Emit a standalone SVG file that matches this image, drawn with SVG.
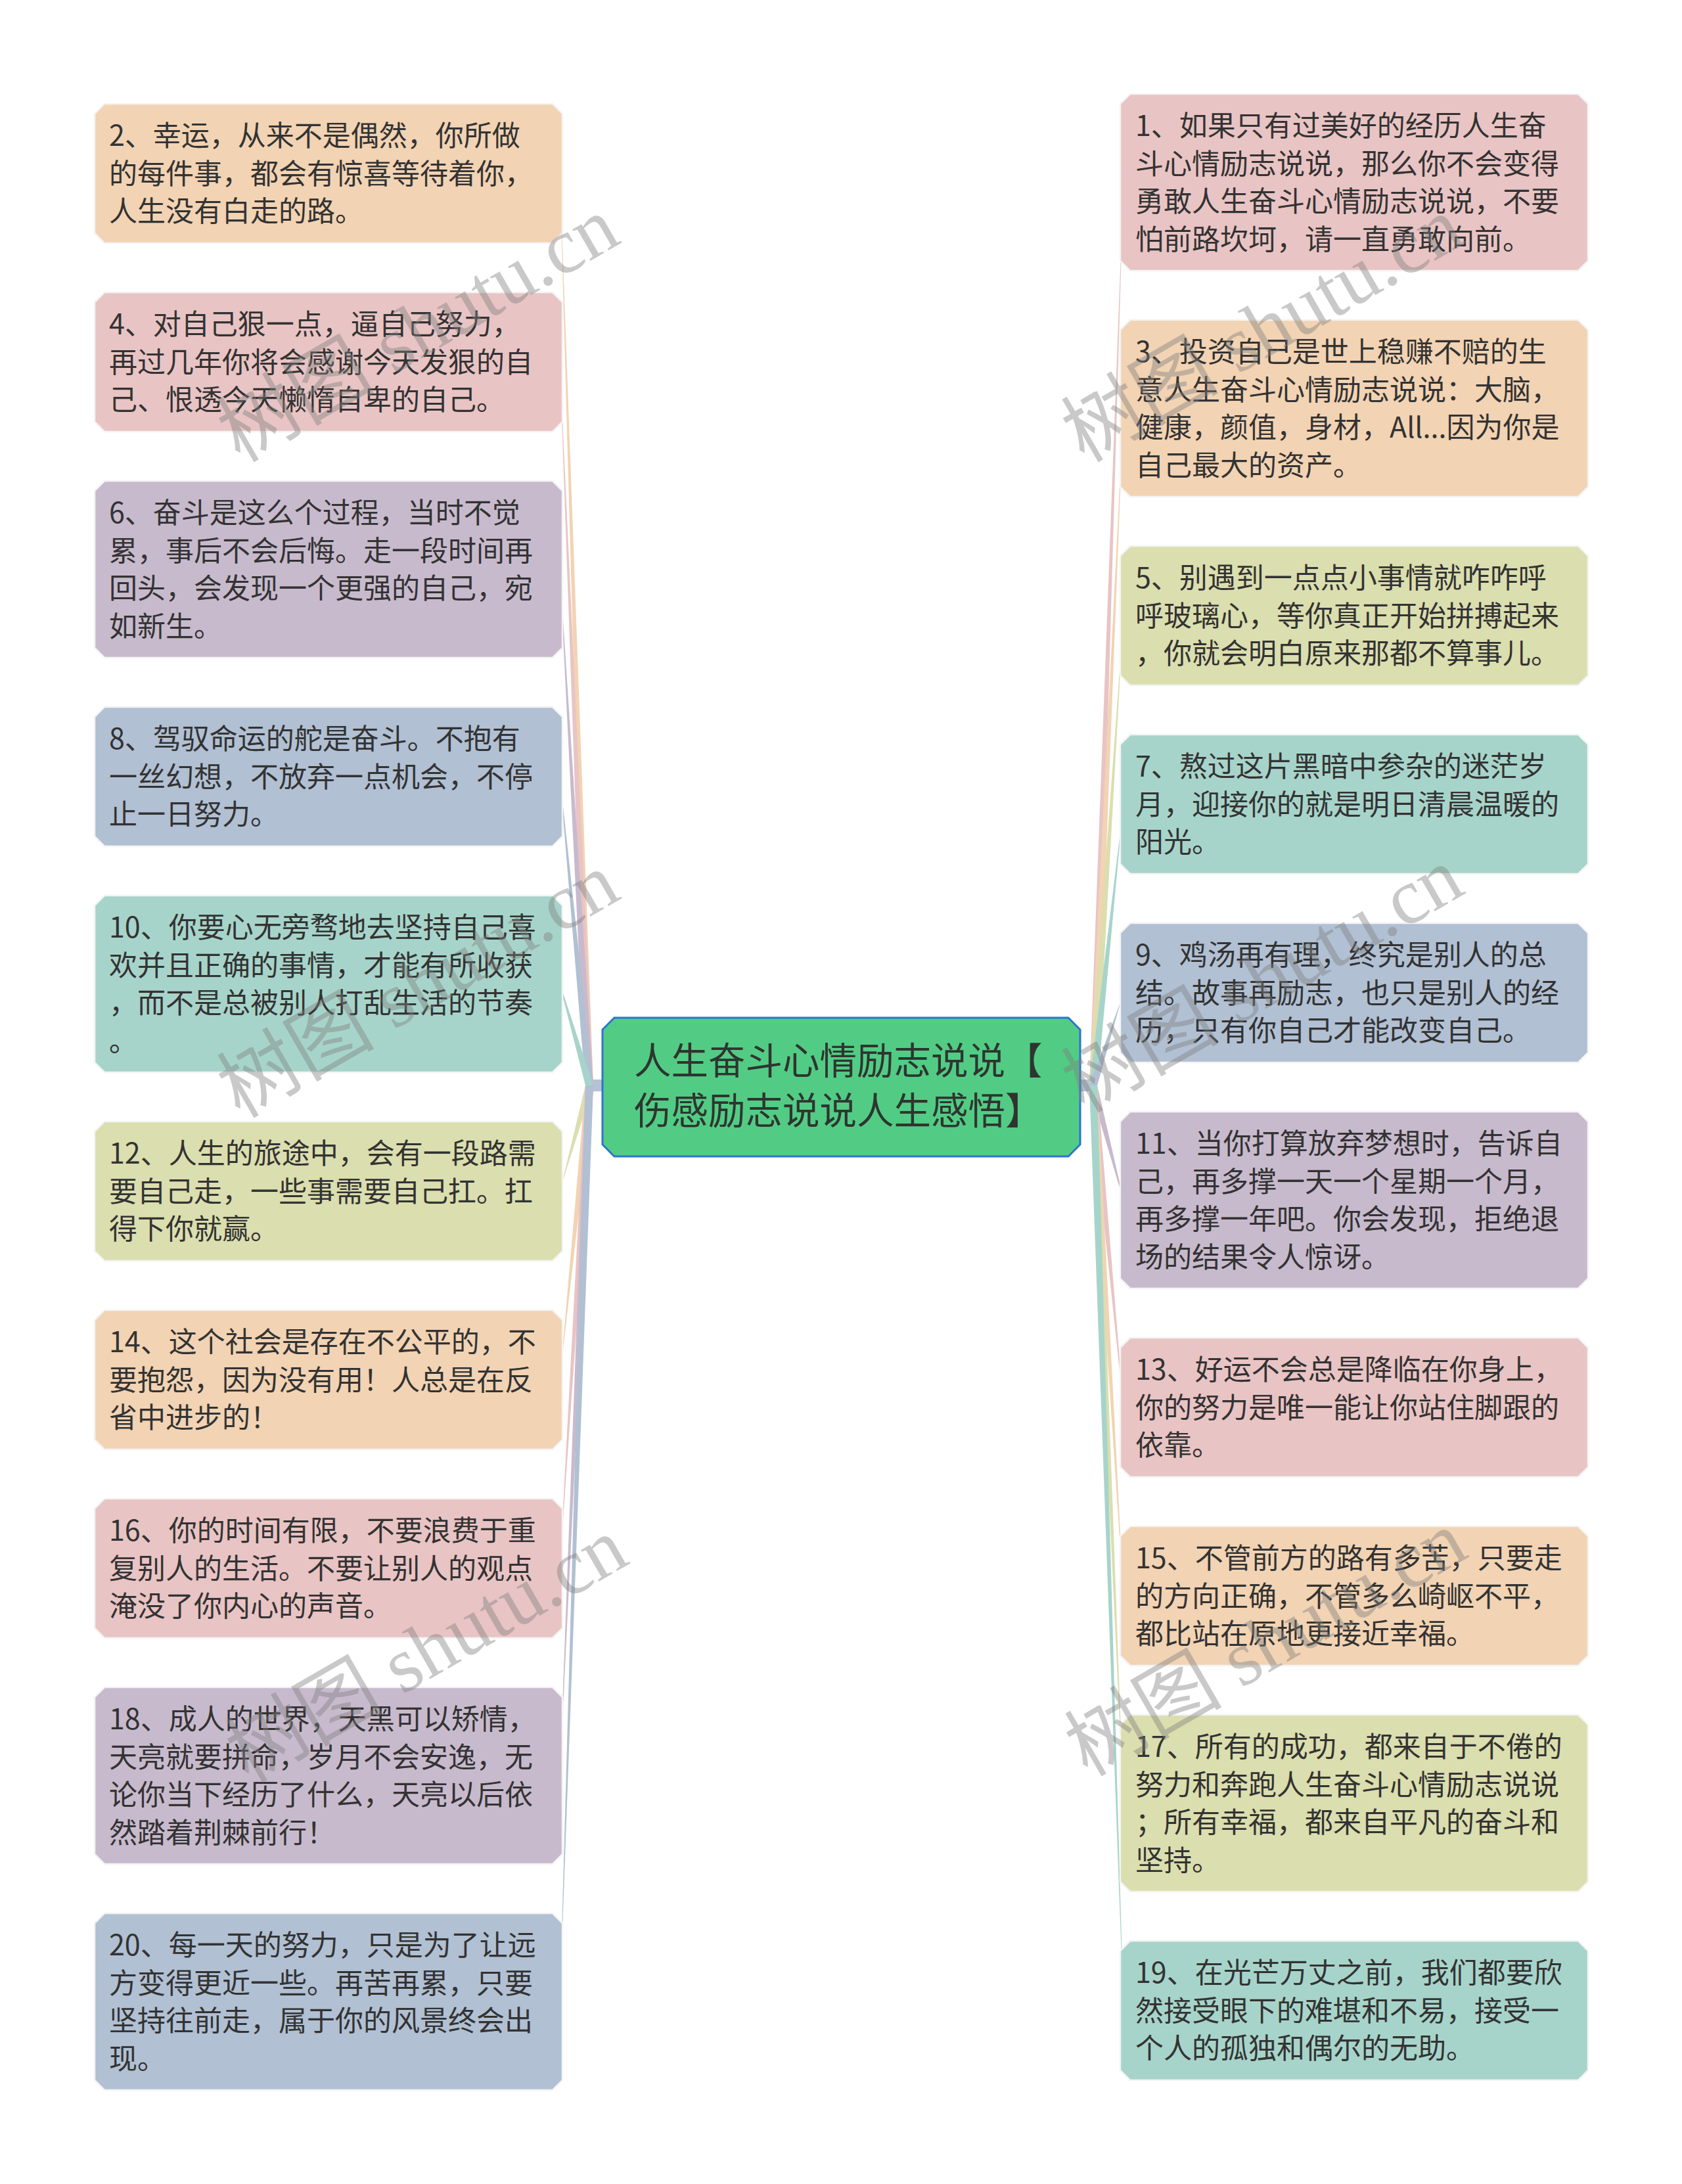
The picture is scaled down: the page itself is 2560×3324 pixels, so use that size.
<svg xmlns="http://www.w3.org/2000/svg" width="2560" height="3324" viewBox="0 0 2560 3324">
<style>
.t{font-family:"Noto Sans CJK SC","Noto Sans",sans-serif;font-size:43px;fill:#333333}
.ct{font-family:"Noto Sans CJK SC","Noto Sans",sans-serif;font-size:56.5px;fill:#2e3530}
.nb{stroke:#f4f4f4;stroke-width:2.5}
.pink{fill:#e9c4c4}.peach{fill:#f2d3b3}.lav{fill:#c8bacd}.blue{fill:#b1c0d3}.teal{fill:#a7d4ca}.khaki{fill:#dbdeae}
.wm{font-family:"Liberation Serif","Noto Sans CJK SC",serif;font-size:120px;fill:#808080;opacity:0.42}
</style>
<rect width="2560" height="3324" fill="#ffffff"/>
<g id="connectors">
<rect x="893" y="1643" width="28" height="18" fill="#b4c2d3"/>
<rect x="1640" y="1643" width="28" height="18" fill="#b4c2d3"/>
<polygon class="peach" points="891,1652 852,265.5 852,262.5 903,1652"/>
<polygon class="pink" points="891,1652 852,552.5 852,549.5 903,1652"/>
<polygon class="lav" points="891,1652 852,868 852,865 903,1652"/>
<polygon class="blue" points="891,1652 852,1183.5 852,1180.5 903,1652"/>
<polygon class="teal" points="891,1652 852,1499 852,1496 903,1652"/>
<polygon class="khaki" points="891,1652 852,1814.5 852,1811.5 903,1652"/>
<polygon class="peach" points="891,1652 852,2101.5 852,2098.5 903,1652"/>
<polygon class="pink" points="891,1652 852,2388.5 852,2385.5 903,1652"/>
<polygon class="lav" points="891,1652 852,2704 852,2701 903,1652"/>
<polygon class="blue" points="891,1652 852,3048 852,3045 903,1652"/>
<polygon class="pink" points="1658,1652 1710,279 1710,276 1670,1652"/>
<polygon class="peach" points="1658,1652 1710,623 1710,620 1670,1652"/>
<polygon class="khaki" points="1658,1652 1710,938.5 1710,935.5 1670,1652"/>
<polygon class="teal" points="1658,1652 1710,1225.5 1710,1222.5 1670,1652"/>
<polygon class="blue" points="1658,1652 1710,1512.5 1710,1509.5 1670,1652"/>
<polygon class="lav" points="1658,1652 1710,1828 1710,1825 1670,1652"/>
<polygon class="pink" points="1658,1652 1710,2143.5 1710,2140.5 1670,1652"/>
<polygon class="peach" points="1658,1652 1710,2430.5 1710,2427.5 1670,1652"/>
<polygon class="khaki" points="1658,1652 1710,2746 1710,2743 1670,1652"/>
<polygon class="teal" points="1658,1652 1710,3061.5 1710,3058.5 1670,1652"/>
</g>
<g id="center">
<path d="M935,1549 H1626 L1644,1567 V1742 L1626,1760 H935 L917,1742 V1567 Z" fill="#52cc84" stroke="#2d74d0" stroke-width="3"/>
<text class="ct"><tspan x="965" y="1635">人生奋斗心情励志说说【</tspan><tspan x="965" y="1711">伤感励志说说人生感悟】</tspan></text>
</g>
<g id="n2"><path class="peach nb" d="M159,158 H841 L856,173 V355 L841,370 H159 L144,355 V173 Z"/>
<text class="t"><tspan x="166" y="222">2、幸运，从来不是偶然，你所做</tspan><tspan x="166" y="279.5">的每件事，都会有惊喜等待着你，</tspan><tspan x="166" y="337">人生没有白走的路。</tspan></text></g>
<g id="n4"><path class="pink nb" d="M159,445 H841 L856,460 V642 L841,657 H159 L144,642 V460 Z"/>
<text class="t"><tspan x="166" y="509">4、对自己狠一点，逼自己努力，</tspan><tspan x="166" y="566.5">再过几年你将会感谢今天发狠的自</tspan><tspan x="166" y="624">己、恨透今天懒惰自卑的自己。</tspan></text></g>
<g id="n6"><path class="lav nb" d="M159,732 H841 L856,747 V986 L841,1001 H159 L144,986 V747 Z"/>
<text class="t"><tspan x="166" y="796">6、奋斗是这么个过程，当时不觉</tspan><tspan x="166" y="853.5">累，事后不会后悔。走一段时间再</tspan><tspan x="166" y="911">回头，会发现一个更强的自己，宛</tspan><tspan x="166" y="968.5">如新生。</tspan></text></g>
<g id="n8"><path class="blue nb" d="M159,1076 H841 L856,1091 V1273 L841,1288 H159 L144,1273 V1091 Z"/>
<text class="t"><tspan x="166" y="1140">8、驾驭命运的舵是奋斗。不抱有</tspan><tspan x="166" y="1197.5">一丝幻想，不放弃一点机会，不停</tspan><tspan x="166" y="1255">止一日努力。</tspan></text></g>
<g id="n10"><path class="teal nb" d="M159,1363 H841 L856,1378 V1617 L841,1632 H159 L144,1617 V1378 Z"/>
<text class="t"><tspan x="166" y="1427">10、你要心无旁骛地去坚持自己喜</tspan><tspan x="166" y="1484.5">欢并且正确的事情，才能有所收获</tspan><tspan x="166" y="1542">，而不是总被别人打乱生活的节奏</tspan><tspan x="166" y="1599.5">。</tspan></text></g>
<g id="n12"><path class="khaki nb" d="M159,1707 H841 L856,1722 V1904 L841,1919 H159 L144,1904 V1722 Z"/>
<text class="t"><tspan x="166" y="1771">12、人生的旅途中，会有一段路需</tspan><tspan x="166" y="1828.5">要自己走，一些事需要自己扛。扛</tspan><tspan x="166" y="1886">得下你就赢。</tspan></text></g>
<g id="n14"><path class="peach nb" d="M159,1994 H841 L856,2009 V2191 L841,2206 H159 L144,2191 V2009 Z"/>
<text class="t"><tspan x="166" y="2058">14、这个社会是存在不公平的，不</tspan><tspan x="166" y="2115.5">要抱怨，因为没有用！人总是在反</tspan><tspan x="166" y="2173">省中进步的！</tspan></text></g>
<g id="n16"><path class="pink nb" d="M159,2281 H841 L856,2296 V2478 L841,2493 H159 L144,2478 V2296 Z"/>
<text class="t"><tspan x="166" y="2345">16、你的时间有限，不要浪费于重</tspan><tspan x="166" y="2402.5">复别人的生活。不要让别人的观点</tspan><tspan x="166" y="2460">淹没了你内心的声音。</tspan></text></g>
<g id="n18"><path class="lav nb" d="M159,2568 H841 L856,2583 V2822 L841,2837 H159 L144,2822 V2583 Z"/>
<text class="t"><tspan x="166" y="2632">18、成人的世界，天黑可以矫情，</tspan><tspan x="166" y="2689.5">天亮就要拼命，岁月不会安逸，无</tspan><tspan x="166" y="2747">论你当下经历了什么，天亮以后依</tspan><tspan x="166" y="2804.5">然踏着荆棘前行！</tspan></text></g>
<g id="n20"><path class="blue nb" d="M159,2912 H841 L856,2927 V3166 L841,3181 H159 L144,3166 V2927 Z"/>
<text class="t"><tspan x="166" y="2976">20、每一天的努力，只是为了让远</tspan><tspan x="166" y="3033.5">方变得更近一些。再苦再累，只要</tspan><tspan x="166" y="3091">坚持往前走，属于你的风景终会出</tspan><tspan x="166" y="3148.5">现。</tspan></text></g>
<g id="n1"><path class="pink nb" d="M1720,143 H2402 L2417,158 V397 L2402,412 H1720 L1705,397 V158 Z"/>
<text class="t"><tspan x="1728" y="207">1、如果只有过美好的经历人生奋</tspan><tspan x="1728" y="264.5">斗心情励志说说，那么你不会变得</tspan><tspan x="1728" y="322">勇敢人生奋斗心情励志说说，不要</tspan><tspan x="1728" y="379.5">怕前路坎坷，请一直勇敢向前。</tspan></text></g>
<g id="n3"><path class="peach nb" d="M1720,487 H2402 L2417,502 V741 L2402,756 H1720 L1705,741 V502 Z"/>
<text class="t"><tspan x="1728" y="551">3、投资自己是世上稳赚不赔的生</tspan><tspan x="1728" y="608.5">意人生奋斗心情励志说说：大脑，</tspan><tspan x="1728" y="666">健康，颜值，身材，All...因为你是</tspan><tspan x="1728" y="723.5">自己最大的资产。</tspan></text></g>
<g id="n5"><path class="khaki nb" d="M1720,831 H2402 L2417,846 V1028 L2402,1043 H1720 L1705,1028 V846 Z"/>
<text class="t"><tspan x="1728" y="895">5、别遇到一点点小事情就咋咋呼</tspan><tspan x="1728" y="952.5">呼玻璃心，等你真正开始拼搏起来</tspan><tspan x="1728" y="1010">，你就会明白原来那都不算事儿。</tspan></text></g>
<g id="n7"><path class="teal nb" d="M1720,1118 H2402 L2417,1133 V1315 L2402,1330 H1720 L1705,1315 V1133 Z"/>
<text class="t"><tspan x="1728" y="1182">7、熬过这片黑暗中参杂的迷茫岁</tspan><tspan x="1728" y="1239.5">月，迎接你的就是明日清晨温暖的</tspan><tspan x="1728" y="1297">阳光。</tspan></text></g>
<g id="n9"><path class="blue nb" d="M1720,1405 H2402 L2417,1420 V1602 L2402,1617 H1720 L1705,1602 V1420 Z"/>
<text class="t"><tspan x="1728" y="1469">9、鸡汤再有理，终究是别人的总</tspan><tspan x="1728" y="1526.5">结。故事再励志，也只是别人的经</tspan><tspan x="1728" y="1584">历，只有你自己才能改变自己。</tspan></text></g>
<g id="n11"><path class="lav nb" d="M1720,1692 H2402 L2417,1707 V1946 L2402,1961 H1720 L1705,1946 V1707 Z"/>
<text class="t"><tspan x="1728" y="1756">11、当你打算放弃梦想时，告诉自</tspan><tspan x="1728" y="1813.5">己，再多撑一天一个星期一个月，</tspan><tspan x="1728" y="1871">再多撑一年吧。你会发现，拒绝退</tspan><tspan x="1728" y="1928.5">场的结果令人惊讶。</tspan></text></g>
<g id="n13"><path class="pink nb" d="M1720,2036 H2402 L2417,2051 V2233 L2402,2248 H1720 L1705,2233 V2051 Z"/>
<text class="t"><tspan x="1728" y="2100">13、好运不会总是降临在你身上，</tspan><tspan x="1728" y="2157.5">你的努力是唯一能让你站住脚跟的</tspan><tspan x="1728" y="2215">依靠。</tspan></text></g>
<g id="n15"><path class="peach nb" d="M1720,2323 H2402 L2417,2338 V2520 L2402,2535 H1720 L1705,2520 V2338 Z"/>
<text class="t"><tspan x="1728" y="2387">15、不管前方的路有多苦，只要走</tspan><tspan x="1728" y="2444.5">的方向正确，不管多么崎岖不平，</tspan><tspan x="1728" y="2502">都比站在原地更接近幸福。</tspan></text></g>
<g id="n17"><path class="khaki nb" d="M1720,2610 H2402 L2417,2625 V2864 L2402,2879 H1720 L1705,2864 V2625 Z"/>
<text class="t"><tspan x="1728" y="2674">17、所有的成功，都来自于不倦的</tspan><tspan x="1728" y="2731.5">努力和奔跑人生奋斗心情励志说说</tspan><tspan x="1728" y="2789">；所有幸福，都来自平凡的奋斗和</tspan><tspan x="1728" y="2846.5">坚持。</tspan></text></g>
<g id="n19"><path class="teal nb" d="M1720,2954 H2402 L2417,2969 V3151 L2402,3166 H1720 L1705,3151 V2969 Z"/>
<text class="t"><tspan x="1728" y="3018">19、在光芒万丈之前，我们都要欣</tspan><tspan x="1728" y="3075.5">然接受眼下的难堪和不易，接受一</tspan><tspan x="1728" y="3133">个人的孤独和偶尔的无助。</tspan></text></g>
<g id="watermarks">
<text class="wm" transform="translate(365,705) rotate(-30)">树图 shutu.cn</text>
<text class="wm" transform="translate(1650,705) rotate(-30)">树图 shutu.cn</text>
<text class="wm" transform="translate(365,1703) rotate(-30)">树图 shutu.cn</text>
<text class="wm" transform="translate(1650,1695) rotate(-30)">树图 shutu.cn</text>
<text class="wm" transform="translate(378,2715) rotate(-30)">树图 shutu.cn</text>
<text class="wm" transform="translate(1655,2705) rotate(-30)">树图 shutu.cn</text>
</g>
</svg>
